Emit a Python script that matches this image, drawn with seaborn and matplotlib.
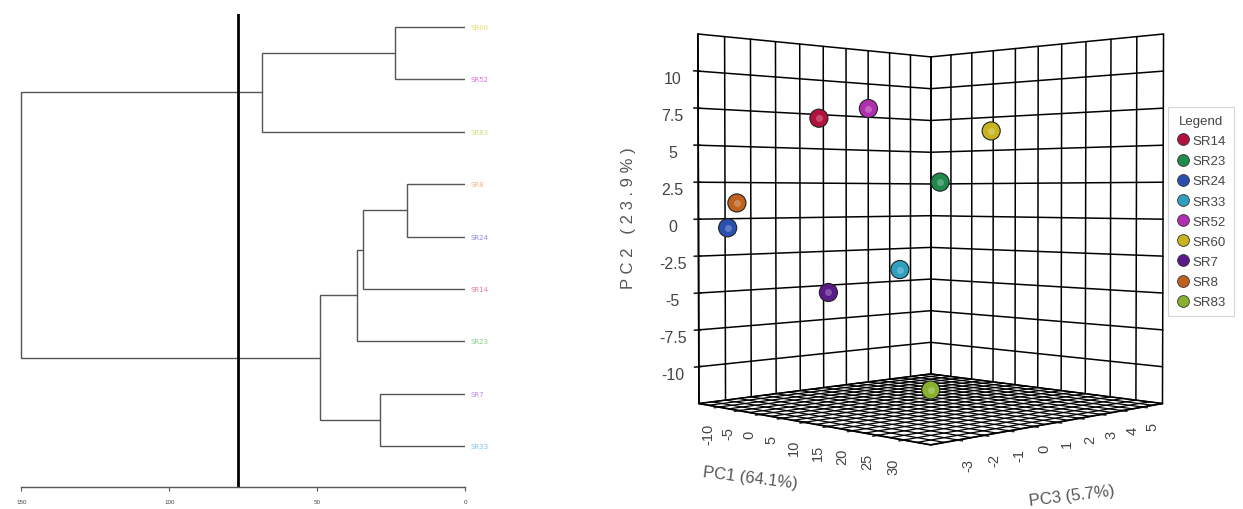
import numpy as np
import pandas as pd
import matplotlib
matplotlib.use('Agg')
import matplotlib.pyplot as plt
import seaborn as sns
from matplotlib.lines import Line2D

# dendrogram data (leaves listed top to bottom)
leaf_names = ['SR60', 'SR52', 'SR83', 'SR8', 'SR24', 'SR14', 'SR23', 'SR7', 'SR33']
leaf_colors = ['#e6dc6a', '#e070e6', '#cfe07c', '#f0b48c', '#8a8ae0', '#f07a90', '#86d086', '#c08ae8', '#80c2f0']
merge_left = [0, 9, 3, 11, 12, 7, 13, 10]
merge_right = [1, 2, 4, 5, 6, 8, 14, 15]
merge_height = [23.6, 68.6, 19.7, 34.5, 36.5, 28.6, 48.9, 150]
cut_height = 76.9
dist_ticks = [150, 100, 50, 0]

# PCA scores
samples = ['SR14', 'SR23', 'SR24', 'SR33', 'SR52', 'SR60', 'SR7', 'SR8', 'SR83']
pc1 = [5, 12, -13, 10, 8, 22, 3, -10, 28]
pc2 = [6.6, 2.5, -0.6, -3.3, 7.3, 5.8, -4.8, 1.1, -10.0]
pc3 = [-2.6, 1.0, -3.2, -0.3, -1.2, 1.1, -1.9, -3.3, -2.6]
sample_colors = ['#b3123c', '#1f8a4c', '#2a4fb0', '#2f9fbf', '#b02fb0',
                 '#c8b41e', '#5a1a8a', '#c0621f', '#88b02e']
pc1_ticks = [-10, -5, 0, 5, 10, 15, 20, 25, 30]
pc2_ticks = [-10, -7.5, -5, -2.5, 0, 2.5, 5, 7.5, 10]
pc3_ticks = [-3, -2, -1, 0, 1, 2, 3, 4, 5]
pc1_lim = (-15, 35)
pc2_lim = (-12.5, 12.5)
pc3_lim = (-4, 6)

df = pd.DataFrame({'sample': samples, 'PC1': pc1, 'PC2': pc2, 'PC3': pc3, 'color': sample_colors})

sns.set_theme(style='white')
plt.rcParams['font.family'] = ['Liberation Sans', 'DejaVu Sans']

fig = plt.figure(figsize=(12.43, 5.10), dpi=100)

# ---------- dendrogram ----------
ax = fig.add_axes([20 / 1243, 1 - 488 / 510, 445 / 1243, 473 / 510])
n = len(leaf_names)
ypos = {i: float(n - 1 - i) for i in range(n)}
xpos = {i: 0.0 for i in range(n)}
for k, (a, b, h) in enumerate(zip(merge_left, merge_right, merge_height)):
    cid = n + k
    ax.plot([xpos[a], h, h, xpos[b]], [ypos[a], ypos[a], ypos[b], ypos[b]],
            color='#555555', lw=1.0, solid_joinstyle='miter')
    ypos[cid] = (ypos[a] + ypos[b]) / 2
    xpos[cid] = h
for i, (name, c) in enumerate(zip(leaf_names, leaf_colors)):
    ax.text(-2, ypos[i], name, color=c, fontsize=5, va='center', ha='left', family='DejaVu Sans')
ax.axvline(cut_height, color='black', lw=2)
ax.set_xlim(150.5, 0)
ax.set_ylim(-0.782, 8.248)
ax.set_xticks(dist_ticks)
ax.set_xticklabels([str(t) for t in dist_ticks], fontsize=4.5, color='#444444')
ax.set_yticks([])
ax.tick_params(axis='x', direction='out', length=3, width=0.8, color='#555555', pad=6, bottom=True)
sns.despine(ax=ax, left=True, top=True, right=True)
ax.spines['bottom'].set_color('#555555')
ax.spines['bottom'].set_linewidth(1.0)
ax.spines['bottom'].set_bounds(150, 0)
ax.patch.set_alpha(0)

# ---------- 3D PCA ----------
ax3 = fig.add_axes([0.504, -0.012, 0.477, 1.13], projection='3d', proj_type='persp',
                   focal_length=0.45, computed_zorder=False)
ax3.view_init(elev=1, azim=-45)
ax3.set_box_aspect((1, 1, 1.125))
ax3.set_xlim(*pc1_lim)
ax3.set_ylim(*pc3_lim)
ax3.set_zlim(*pc2_lim)
ax3.grid(False)
for axis in (ax3.xaxis, ax3.yaxis, ax3.zaxis):
    axis.set_pane_color((1, 1, 1, 1))
    axis.pane.set_edgecolor('white')
    axis.line.set_color('black')
ax3.zaxis.set_ticks_position('lower')

gx = np.linspace(*pc1_lim, 11)
gy = np.linspace(*pc3_lim, 11)
gz = np.linspace(*pc2_lim, 11)
kw = dict(color='black', lw=1.1, zorder=1)
# left back wall (PC1 = min)
for y in gy:
    ax3.plot([pc1_lim[0]] * 2, [y, y], pc2_lim, **kw)
for z in gz:
    ax3.plot([pc1_lim[0]] * 2, pc3_lim, [z, z], **kw)
# right back wall (PC3 = max)
for x in gx:
    ax3.plot([x, x], [pc3_lim[1]] * 2, pc2_lim, **kw)
for z in gz:
    ax3.plot(pc1_lim, [pc3_lim[1]] * 2, [z, z], **kw)
# floor
fx = np.linspace(*pc1_lim, 21)
fy = np.linspace(*pc3_lim, 21)
for x in fx:
    ax3.plot([x, x], pc3_lim, [pc2_lim[0]] * 2, color='black', lw=0.9, zorder=1)
for y in fy:
    ax3.plot(pc1_lim, [y, y], [pc2_lim[0]] * 2, color='black', lw=0.9, zorder=1)

ax3.scatter(df['PC1'], df['PC3'], df['PC2'], c=df['color'], s=170, edgecolors='#222222',
            linewidths=0.8, depthshade=False, alpha=1, zorder=5)
ax3.scatter(df['PC1'], df['PC3'], df['PC2'], c='white', s=25, alpha=0.25, linewidths=0,
            depthshade=False, zorder=6)

ax3.set_xticks(pc1_ticks)
ax3.set_yticks(pc3_ticks)
ax3.set_zticks(pc2_ticks)
ax3.set_xticklabels([str(t) for t in pc1_ticks])
ax3.set_yticklabels([str(t) for t in pc3_ticks])
ax3.set_zticklabels([f'{t:g}' for t in pc2_ticks])
ax3.tick_params(axis='x', labelsize=10.5, labelcolor='#444444', labelrotation=90, pad=0)
ax3.tick_params(axis='y', labelsize=10.5, labelcolor='#444444', labelrotation=90, pad=0)
ax3.tick_params(axis='z', labelsize=11.5, labelcolor='#444444', pad=4)

fig.text(628 / 1243, 1 - 218 / 510, 'P C 2   ( 2 3 . 9 % )', rotation=90, fontsize=12,
         color='#555555', ha='center', va='center')
fig.text(750 / 1243, 1 - 478 / 510, 'PC1 (64.1%)', rotation=-7, fontsize=12,
         color='#555555', ha='center', va='center')
fig.text(1072 / 1243, 1 - 496 / 510, 'PC3 (5.7%)', rotation=7, fontsize=12,
         color='#555555', ha='center', va='center')

handles = [Line2D([], [], marker='o', ls='', markersize=8.5, markerfacecolor=c,
                  markeredgecolor='#333333', markeredgewidth=0.6) for c in sample_colors]
leg = fig.legend(handles, samples, loc='upper left', bbox_to_anchor=(1168 / 1243, 1 - 108 / 510),
                 title='Legend', fontsize=9.5, title_fontsize=9.5, frameon=True, fancybox=False,
                 handletextpad=0.25, labelspacing=0.6, borderpad=0.6, handlelength=1.0,
                 borderaxespad=0)
leg.get_frame().set_edgecolor('#cccccc')
leg.get_frame().set_linewidth(0.8)
for t in leg.get_texts():
    t.set_color('#444444')
leg.get_title().set_color('#444444')

fig.savefig('out.png', dpi=100)
